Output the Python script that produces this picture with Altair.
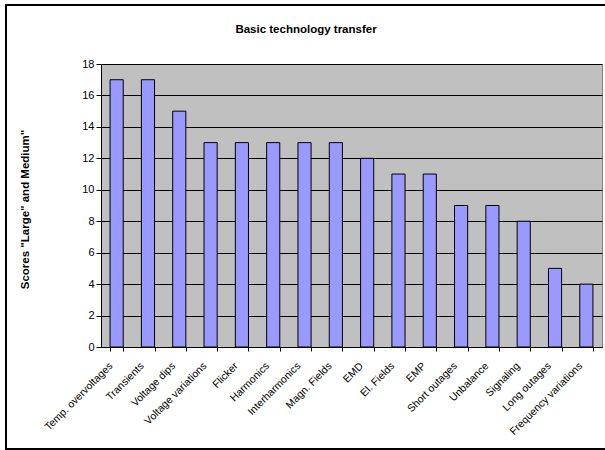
import altair as alt
import pandas as pd

categories = ["Temp. overvoltages", "Transients", "Voltage dips", "Voltage variations",
              "Flicker", "Harmonics", "Interharmonics", "Magn. Fields", "EMD",
              "El. Fields", "EMP", "Short outages", "Unbalance", "Signaling",
              "Long outages", "Frequency variations"]
scores = [17, 17, 15, 13, 13, 13, 13, 13, 12, 11, 11, 9, 9, 8, 5, 4]
chart_title = ["Basic technology transfer"]

df = pd.DataFrame({"category": categories, "score": scores})
tdf = pd.DataFrame({"t": chart_title})

FONT = "Liberation Sans"

bars = alt.Chart(df).mark_bar(
    color="#9999FF", stroke="#000000", strokeWidth=1
).encode(
    x=alt.X("category:N", sort=categories,
            scale=alt.Scale(paddingInner=0.58, paddingOuter=0.29),
            axis=alt.Axis(title=None, labelAngle=-45, labelAlign="right",
                          labelBaseline="middle", labelFontSize=10.5, labelFont=FONT,
                          labelColor="#000000", labelPadding=13, labelOffset=-6,
                          tickBand="extent",
                          tickColor="#000000", tickSize=4, domainColor="#000000",
                          grid=False, labelOverlap=False)),
    y=alt.Y("score:Q", scale=alt.Scale(domain=[0, 18]),
            axis=alt.Axis(title='Scores "Large" and Medium"', titleFont=FONT,
                          titleFontSize=11.5, titleFontWeight="bold", titleColor="#000000",
                          titleAngle=270, titleAlign="center", titleBaseline="middle",
                          titleX=-76, titleY=145,
                          values=list(range(0, 19, 2)),
                          labelFont=FONT, labelFontSize=11, labelColor="#000000",
                          tickColor="#000000", tickSize=5, domainColor="#000000",
                          gridColor="#000000", gridWidth=1, labelPadding=2)),
)

border_style = dict(color="#000000", strokeWidth=2)
top_line = alt.Chart(tdf).mark_rule(**border_style).encode(
    x=alt.value(-96), x2=alt.value(520), y=alt.value(-59))
bottom_line = alt.Chart(tdf).mark_rule(**border_style).encode(
    x=alt.value(-96), x2=alt.value(520), y=alt.value(385))
left_line = alt.Chart(tdf).mark_rule(**border_style).encode(
    x=alt.value(-95), y=alt.value(-60), y2=alt.value(386))

title = alt.Chart(tdf).mark_text(
    font=FONT, fontSize=11.5, fontWeight="bold", color="#000000",
    align="center", baseline="middle"
).encode(
    text="t:N", x=alt.value(205), y=alt.value(-34)
)

chart = alt.layer(top_line, bottom_line, left_line, bars, title).properties(
    width=501, height=283,
    padding={"left": 101, "top": 64, "right": 3, "bottom": 103},
    autosize=alt.AutoSizeParams(type="none"),
    background="#FFFFFF",
).configure_view(
    fill="#C0C0C0", stroke="#808080", strokeWidth=1
)

chart.save("out.html", embed_options={"renderer": "svg", "actions": False})
